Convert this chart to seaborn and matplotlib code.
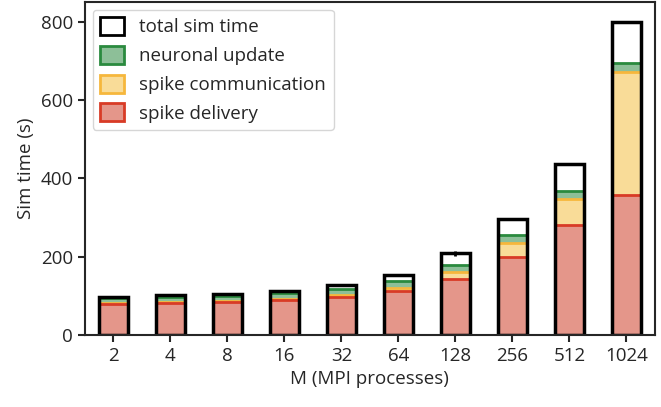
import numpy as np
import pandas as pd
import matplotlib
matplotlib.use("Agg")
import matplotlib.pyplot as plt
import seaborn as sns
from matplotlib.patches import Patch

# data (seconds)
M_PROCS = ["2", "4", "8", "16", "32", "64", "128", "256", "512", "1024"]
spike_delivery = [79, 81, 85, 90, 97, 112, 143, 200, 282, 358]
spike_comm = [2, 2, 2, 2, 5, 7, 17, 36, 64, 313]
neuronal_update = [13, 13, 13, 15, 15, 18, 18, 20, 21, 24]
total_sim = [98, 101, 105, 112, 128, 153, 208, 297, 437, 800]
total_err = [0.5, 0.5, 0.5, 0.5, 0.5, 0.5, 6, 0.5, 0.5, 0.5]

# colours: (face, edge)
RED = ("#e4968a", "#d83b26")
YELLOW = ("#f9dc98", "#f6b73c")
GREEN = ("#8dbf98", "#2a8a3e")

sns.set_style("ticks")
plt.rcParams["font.family"] = ["Open Sans", "DejaVu Sans"]
plt.rcParams["font.size"] = 13.5

df = pd.DataFrame({
    "M": M_PROCS,
    "delivery": spike_delivery,
    "comm": np.cumsum([spike_delivery, spike_comm], axis=0)[-1],
    "update": np.cumsum([spike_delivery, spike_comm, neuronal_update], axis=0)[-1],
    "total": total_sim,
})

fig = plt.figure(figsize=(6.61, 4.07), dpi=100)
ax = fig.add_axes([0.1286, 0.177, 0.862, 0.818])

width = 0.5
lw = 2
# draw cumulative bars from tallest to shortest so only top edges show
for col, (face, edge) in [("update", GREEN), ("comm", YELLOW), ("delivery", RED)]:
    sns.barplot(data=df, x="M", y=col, color=face, edgecolor=edge, linewidth=lw,
                width=width, saturation=1, ax=ax)

sns.barplot(data=df, x="M", y="total", fill=False, edgecolor="black", linewidth=2.5,
            width=width, ax=ax)
ax.errorbar(np.arange(len(M_PROCS)), total_sim, yerr=total_err, fmt="none",
            ecolor="black", elinewidth=2, capsize=0)

ax.set_xlim(-0.5, 9.5)
ax.set_ylim(0, 850)
ax.set_yticks([0, 200, 400, 600, 800])
ax.set_xlabel("M (MPI processes)")
ax.set_ylabel("Sim time (s)")
for s in ax.spines.values():
    s.set_linewidth(1.5)
ax.tick_params(width=1.5, length=5)

handles = [
    Patch(facecolor="white", edgecolor="black", linewidth=2),
    Patch(facecolor=GREEN[0], edgecolor=GREEN[1], linewidth=2),
    Patch(facecolor=YELLOW[0], edgecolor=YELLOW[1], linewidth=2),
    Patch(facecolor=RED[0], edgecolor=RED[1], linewidth=2),
]
labels = ["total sim time", "neuronal update", "spike communication", "spike delivery"]
ax.legend(handles, labels, loc="upper left", frameon=True, handlelength=1.3,
          handleheight=1.1, borderaxespad=0.4)

fig.savefig("out.png", dpi=100)
